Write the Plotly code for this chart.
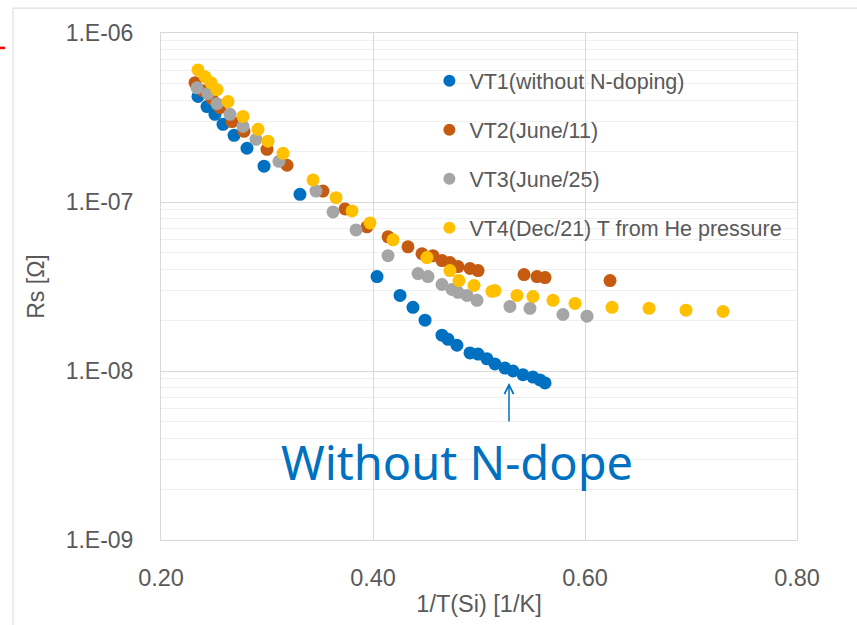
import plotly.graph_objects as go

# ---------------- data ----------------
vt1_x = [0.2349, 0.2434, 0.2509, 0.2585, 0.2689, 0.2811, 0.2972, 0.3311, 0.4038,
         0.4255, 0.4377, 0.4491, 0.4651, 0.4708, 0.4792, 0.4915, 0.4991, 0.5075,
         0.5151, 0.5245, 0.5321, 0.5415, 0.5509, 0.5575, 0.5623]
vt1_y = [4.21e-7, 3.67e-7, 3.30e-7, 2.88e-7, 2.48e-7, 2.08e-7, 1.63e-7, 1.11e-7, 3.62e-8,
         2.80e-8, 2.38e-8, 2.00e-8, 1.63e-8, 1.54e-8, 1.42e-8, 1.28e-8, 1.26e-8, 1.18e-8,
         1.10e-8, 1.04e-8, 1.00e-8, 9.5e-9, 9.2e-9, 8.85e-9, 8.5e-9]

vt2_x = [0.2321, 0.2396, 0.2481, 0.2557, 0.2670, 0.2783, 0.3000, 0.3189, 0.3528,
         0.3736, 0.3943, 0.4142, 0.4330, 0.4462, 0.4566, 0.4651, 0.4726, 0.4802,
         0.4915, 0.4991, 0.5425, 0.5547, 0.5623, 0.6236]
vt2_y = [5.08e-7, 4.56e-7, 4.09e-7, 3.62e-7, 2.99e-7, 2.62e-7, 2.05e-7, 1.65e-7, 1.16e-7,
         9.1e-8, 7.13e-8, 6.22e-8, 5.43e-8, 4.94e-8, 4.81e-8, 4.50e-8, 4.38e-8, 4.15e-8,
         4.04e-8, 3.93e-8, 3.72e-8, 3.62e-8, 3.57e-8, 3.43e-8]

vt3_x = [0.2340, 0.2443, 0.2528, 0.2651, 0.2774, 0.2896, 0.3113, 0.3462, 0.3623,
         0.3840, 0.4142, 0.4425, 0.4519, 0.4651, 0.4745, 0.4802, 0.4887, 0.4981,
         0.5292, 0.5481, 0.5792, 0.6019]
vt3_y = [4.74e-7, 4.38e-7, 3.82e-7, 3.30e-7, 2.80e-7, 2.35e-7, 1.74e-7, 1.16e-7, 8.73e-8,
         6.84e-8, 4.81e-8, 3.77e-8, 3.62e-8, 3.25e-8, 3.04e-8, 2.92e-8, 2.80e-8, 2.62e-8,
         2.41e-8, 2.35e-8, 2.16e-8, 2.11e-8]

vt4_x = [0.2349, 0.2415, 0.2472, 0.2528, 0.2632, 0.2774, 0.2915, 0.3009, 0.3151,
         0.3434, 0.3651, 0.3802, 0.3972, 0.4189, 0.4509, 0.4726, 0.4811, 0.4953,
         0.5123, 0.5151, 0.5358, 0.5509, 0.5698, 0.5906, 0.6255, 0.6604, 0.6953, 0.7302]
vt4_y = [6.05e-7, 5.51e-7, 5.08e-7, 4.62e-7, 3.93e-7, 3.21e-7, 2.69e-7, 2.29e-7, 1.94e-7,
         1.35e-7, 1.06e-7, 8.86e-8, 7.52e-8, 5.97e-8, 4.69e-8, 3.93e-8, 3.43e-8, 3.21e-8,
         2.96e-8, 2.99e-8, 2.80e-8, 2.76e-8, 2.62e-8, 2.51e-8, 2.38e-8, 2.35e-8, 2.29e-8, 2.25e-8]

series_names = ["VT1(without N-doping)", "VT2(June/11)", "VT3(June/25)",
                "VT4(Dec/21) T from He pressure"]
series_colors = ["#0070C0", "#C55A11", "#A5A5A5", "#FFC000"]

x_tick_vals = [0.2, 0.4, 0.6, 0.8]
x_tick_text = ["0.20", "0.40", "0.60", "0.80"]
y_tick_vals = [1e-9, 1e-8, 1e-7, 1e-6]
y_tick_text = ["1.E-09", "1.E-08", "1.E-07", "1.E-06"]
y_minor_vals = [m * 10.0 ** e for e in (-9, -8, -7) for m in range(2, 10)]

annot_text = "Without N-dope"
annot_x = 0.4797
annot_log_y = -8.541      # annotation positions on a log axis are given in log10 units
arrow_x = 0.5283
arrow_log_y = -8.0706

# ---------------- figure ----------------
TXT = "#595959"
FONT = "Liberation Sans, Arial, sans-serif"

fig = go.Figure()
for i, (xs, ys) in enumerate([(vt1_x, vt1_y), (vt2_x, vt2_y), (vt3_x, vt3_y), (vt4_x, vt4_y)]):
    fig.add_trace(go.Scatter(
        x=xs, y=ys, mode="markers", name=series_names[i],
        legendgroup=f"g{i}",
        marker=dict(size=13, color=series_colors[i], line=dict(width=0)),
    ))

fig.update_layout(
    width=857, height=625,
    margin=dict(l=161, r=60, t=33, b=82),
    paper_bgcolor="white", plot_bgcolor="white",
    font=dict(family=FONT, color=TXT, size=22),
    showlegend=True,
    legend=dict(
        x=0.422, y=0.946, xanchor="left", yanchor="top",
        bgcolor="rgba(0,0,0,0)", font=dict(size=21.5, color=TXT, family=FONT),
        traceorder="grouped", tracegroupgap=18, itemsizing="constant",
    ),
)

fig.update_xaxes(
    range=[0.2, 0.8], tickvals=x_tick_vals, ticktext=x_tick_text,
    showgrid=True, gridcolor="#D9D9D9", gridwidth=1,
    showline=True, linecolor="#D9D9D9", linewidth=1, mirror=True,
    ticks="", ticklabelstandoff=17, zeroline=False,
    tickfont=dict(size=23.5, color=TXT),
    title=dict(text="1/T(Si) [1/K]", font=dict(size=23.5, color=TXT), standoff=5),
)
fig.update_yaxes(
    type="log", range=[-9, -6], tickvals=y_tick_vals, ticktext=y_tick_text,
    showgrid=True, gridcolor="#D9D9D9", gridwidth=1,
    showline=True, linecolor="#D9D9D9", linewidth=1, mirror=True,
    ticks="", ticklabelstandoff=22, zeroline=False,
    tickfont=dict(size=23, color=TXT),
    minor=dict(tickvals=y_minor_vals, showgrid=True, gridcolor="#F0F0F0", gridwidth=1, ticks=""),
    title=dict(text="Rs [Ω]", font=dict(size=23, color=TXT), standoff=14),
)

fig.add_annotation(x=annot_x, y=annot_log_y, xref="x", yref="y", yanchor="middle",
                   text=annot_text, showarrow=False,
                   font=dict(family="Noto Sans, sans-serif", size=47, color="#0070C0"))
fig.add_annotation(x=arrow_x, y=arrow_log_y, xref="x", yref="y", text="",
                   showarrow=True, arrowhead=5, arrowsize=1.2, arrowwidth=1.5,
                   arrowcolor="#0070C0", ax=0, ay=40)

# outer chart-area border and the red mark at the top-left edge
def px_x(p):
    return (p - 161) / 636.0

def px_y(p):
    return (543 - p) / 510.0

fig.add_shape(type="rect", xref="paper", yref="paper",
              x0=px_x(13), x1=px_x(870), y0=px_y(640), y1=px_y(8),
              line=dict(color="#D9D9D9", width=1), layer="below")
fig.add_shape(type="line", xref="paper", yref="paper",
              x0=px_x(0), x1=px_x(5), y0=px_y(48), y1=px_y(48),
              line=dict(color="#FF0000", width=2.5))

fig.write_html("out.html")
